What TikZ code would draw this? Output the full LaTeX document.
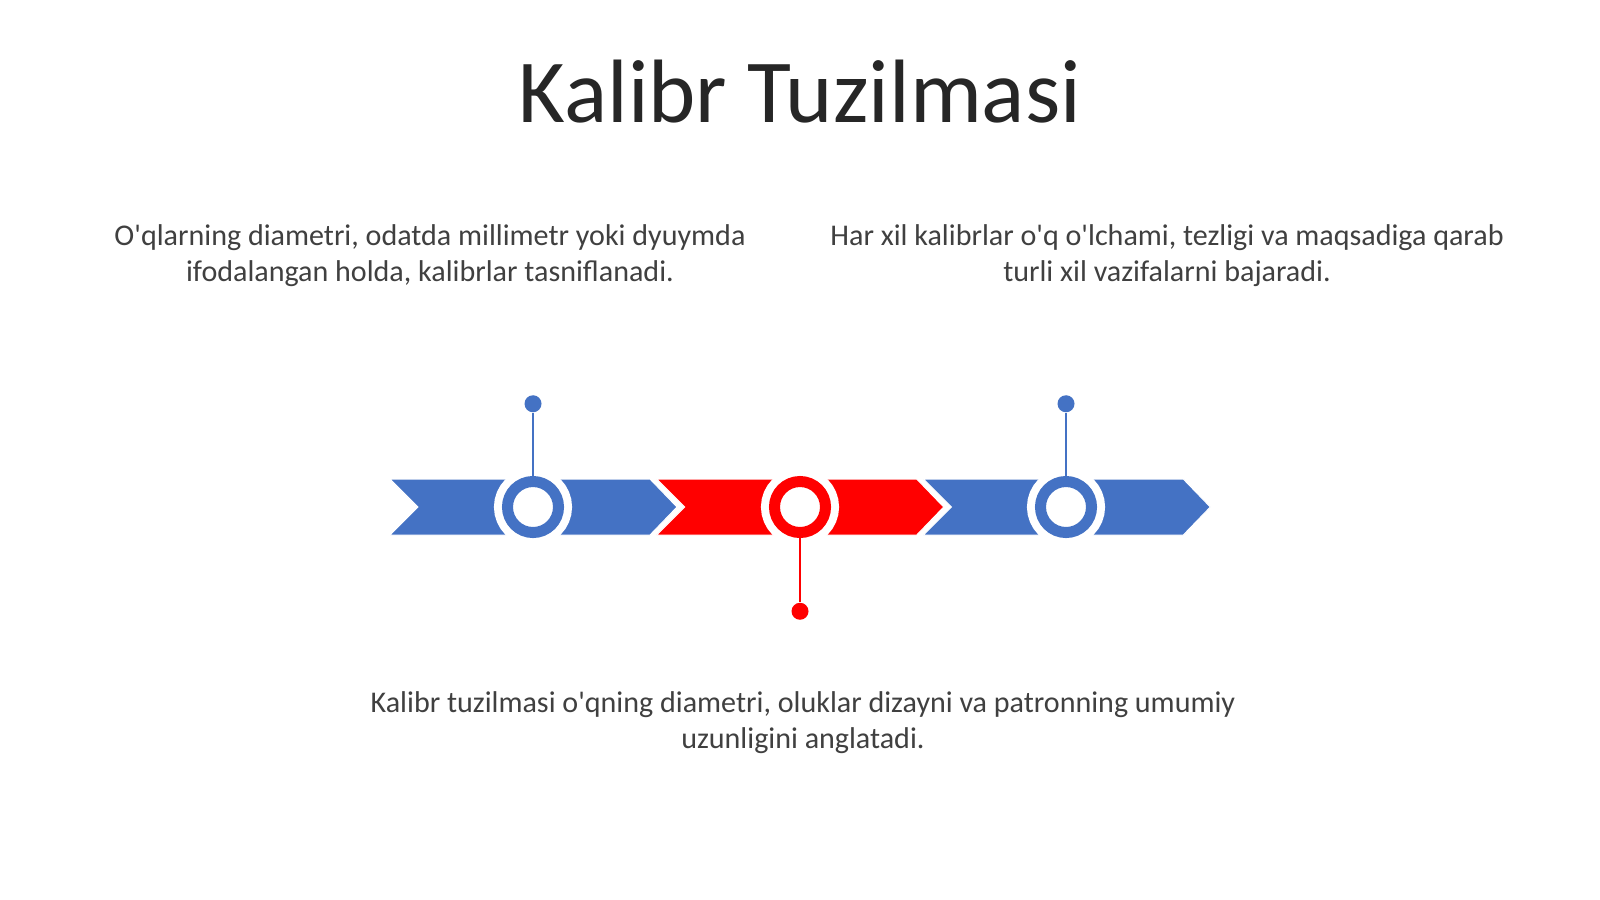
\documentclass[tikz,border=0pt]{standalone}
\usepackage{fontspec}
\setmainfont{Carlito}
\usetikzlibrary{positioning}
\definecolor{chevblue}{HTML}{4472C4}
\definecolor{chevred}{HTML}{FF0000}
\definecolor{titlegray}{HTML}{262626}
\definecolor{textgray}{HTML}{404040}
\newcommand{\apos}{\textquotesingle}
\tikzset{
    chevron/.style = {draw=white, line width=0.01cm, line join=miter},
    ring/.style = {circle, inner sep=0pt, minimum size=0.51cm, line width=0.11cm, fill=white, draw=#1,
                   preaction={draw=white, line width=0.27cm}},
    pindot/.style = {circle, inner sep=0pt, minimum size=0.17cm, fill=#1},
    stem/.style = {line width=0.02cm, #1},
    bodytext/.style = {align=center, text=textgray, font=\fontsize{8.55}{10.2}\selectfont},
}

\begin{document}
\begin{tikzpicture}[x=0.01cm, y=-0.01cm]
  \useasboundingbox[fill=white] (0,0) rectangle (1600,899);
  % title
  \node[text=titlegray, font=\fontsize{25.6}{30}\selectfont] (title) at (800,92) {Kalibr Tuzilmasi};
  % texts
  \node[bodytext] (textleft) at (430,256) {O\apos qlarning diametri, odatda millimetr yoki dyuymda\\ifodalangan holda, kalibrlar tasniflanadi.};
  \node[bodytext] (textright) at (1167,256) {Har xil kalibrlar o\apos q o\apos lchami, tezligi va maqsadiga qarab\\turli xil vazifalarni bajaradi.};
  \node[bodytext] (textbottom) at (803,723) {Kalibr tuzilmasi o\apos qning diametri, oluklar dizayni va patronning umumiy\\uzunligini anglatadi.};
  % chevrons
  \foreach \x/\col in {390/chevblue, 656.7/chevred, 923.3/chevblue}
    \filldraw[chevron, fill=\col] (\x,479) -- ++(260,0) -- ++(27,28) -- ++(-27,28) -- ++(-260,0) -- ++(28,-28) -- cycle;
  % rings
  \node[ring=chevblue] (ringa) at (533,507) {};
  \node[ring=chevred] (ringb) at (800,507) {};
  \node[ring=chevblue] (ringc) at (1066,507) {};
  % pins
  \node[pindot=chevblue, above=0.63cm of ringa] (pina) {};
  \node[pindot=chevred, below=0.64cm of ringb] (pinb) {};
  \node[pindot=chevblue, above=0.63cm of ringc] (pinc) {};
  \draw[stem=chevblue] (ringa) -- (pina);
  \draw[stem=chevred] (ringb) -- (pinb);
  \draw[stem=chevblue] (ringc) -- (pinc);
\end{tikzpicture}
\end{document}
